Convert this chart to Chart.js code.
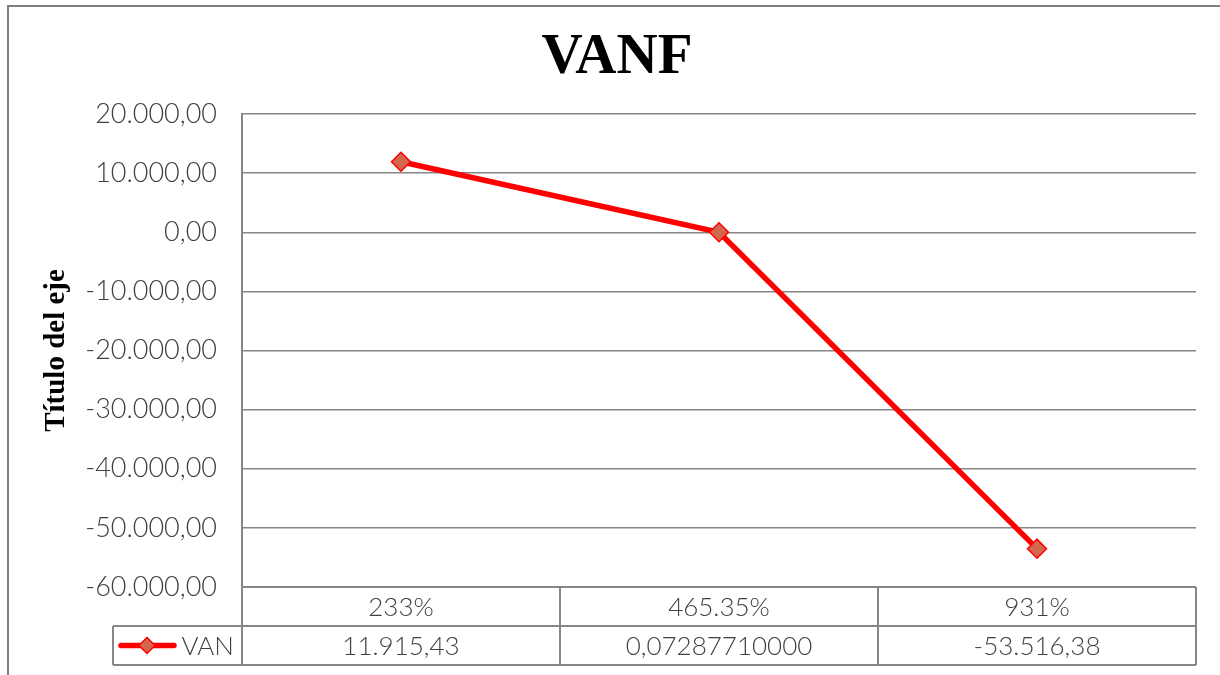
<!DOCTYPE html>
<html>
<head>
<meta charset="utf-8">
<title>VANF</title>
<script src="https://cdn.jsdelivr.net/npm/chart.js@4/dist/chart.umd.min.js"></script>
<style>
  html, body { margin: 0; padding: 0; background: #fff; }
  #wrap { width: 1220px; height: 675px; }
</style>
</head>
<body>
<div id="wrap"><canvas id="vanChart" width="1220" height="675"></canvas></div>
<script>
// chart data
const categories = ['233%', '465.35%', '931%'];
const vanValues = [11915.43, 0.0728771, -53516.38];
const vanLabels = ['11.915,43', '0,07287710000', '-53.516,38'];
const seriesName = 'VAN';

const yMin = -60000;
const yMax = 20000;
const yStep = 10000;

const LINE_RED = '#ff0000';
const MARKER_FILL = '#d3674d';
const GRID_GRAY = '#868686';
const TEXT_GRAY = '#404040';
const SANS = 'Lato, "Noto Sans", sans-serif';
const SERIF = '"Liberation Serif", "Times New Roman", serif';

// 20000 -> "20.000,00"
function formatEs(v) {
  const neg = v < 0;
  const parts = Math.abs(v).toFixed(2).split('.');
  const intPart = parts[0].replace(/\B(?=(\d{3})+(?!\d))/g, '.');
  return (neg ? '-' : '') + intPart + ',' + parts[1];
}

// outer frame like the Excel chart area border
const framePlugin = {
  id: 'frame',
  beforeDraw(chart) {
    const ctx = chart.ctx;
    ctx.save();
    ctx.strokeStyle = '#7f7f7f';
    ctx.lineWidth = 2;
    ctx.strokeRect(8, 6, chart.width + 20, chart.height + 20);
    ctx.restore();
  }
};

// data table under the plot (categories row + series row with legend key)
const dataTablePlugin = {
  id: 'dataTable',
  afterDraw(chart) {
    const ctx = chart.ctx;
    const area = chart.chartArea;
    const xScale = chart.scales.x;
    const rowH = 39;
    const top = area.bottom;
    const mid = top + rowH;
    const bottom = mid + rowH;
    const step = xScale.getPixelForValue(1) - xScale.getPixelForValue(0);
    const keyLeft = 113;

    ctx.save();
    ctx.strokeStyle = GRID_GRAY;
    ctx.lineWidth = 2;

    // grid of the table
    ctx.beginPath();
    ctx.moveTo(area.left, top); ctx.lineTo(area.right, top);
    ctx.moveTo(keyLeft, mid); ctx.lineTo(area.right, mid);
    ctx.moveTo(keyLeft, bottom); ctx.lineTo(area.right, bottom);
    ctx.moveTo(keyLeft, mid); ctx.lineTo(keyLeft, bottom);
    ctx.moveTo(area.left, top); ctx.lineTo(area.left, bottom);
    categories.forEach((c, i) => {
      const xr = xScale.getPixelForValue(i) + step / 2;
      ctx.moveTo(xr, top); ctx.lineTo(xr, bottom);
    });
    ctx.stroke();

    // cell text
    ctx.fillStyle = TEXT_GRAY;
    ctx.font = '300 26px ' + SANS;
    ctx.textAlign = 'center';
    ctx.textBaseline = 'middle';
    categories.forEach((c, i) => {
      const x = xScale.getPixelForValue(i);
      ctx.fillText(c, x, top + rowH / 2 + 1);
      ctx.fillText(vanLabels[i], x, mid + rowH / 2 + 1);
    });

    // legend key
    const ky = mid + rowH / 2;
    ctx.strokeStyle = LINE_RED;
    ctx.lineWidth = 5.5;
    ctx.lineCap = 'round';
    ctx.beginPath();
    ctx.moveTo(121, ky); ctx.lineTo(174, ky);
    ctx.stroke();
    ctx.beginPath();
    ctx.moveTo(147, ky - 8); ctx.lineTo(155, ky); ctx.lineTo(147, ky + 8); ctx.lineTo(139, ky);
    ctx.closePath();
    ctx.fillStyle = MARKER_FILL;
    ctx.fill();
    ctx.strokeStyle = LINE_RED;
    ctx.lineWidth = 1.5;
    ctx.stroke();

    ctx.fillStyle = TEXT_GRAY;
    ctx.textAlign = 'right';
    ctx.fillText(seriesName, area.left - 8, ky + 1);
    ctx.restore();
  }
};

function buildConfig() {
  return {
    type: 'line',
    data: {
      labels: categories,
      datasets: [{
        label: seriesName,
        data: vanValues,
        borderColor: LINE_RED,
        borderWidth: 5.5,
        pointStyle: 'rectRot',
        pointRadius: 9.5,
        pointBackgroundColor: MARKER_FILL,
        pointBorderColor: LINE_RED,
        pointBorderWidth: 1.5,
        tension: 0
      }]
    },
    options: {
      responsive: false,
      animation: false,
      devicePixelRatio: 1,
      // left padding shifts the title centre to match Excel's placement
      layout: { padding: { left: 38, right: 24, top: 0, bottom: 0 } },
      plugins: {
        legend: { display: false },
        tooltip: { enabled: false },
        title: {
          display: true,
          text: 'VANF',
          color: '#000',
          font: { family: SERIF, size: 57, weight: 'bold' },
          padding: { top: 24, bottom: 21.6 }
        }
      },
      scales: {
        x: {
          type: 'category',
          offset: true,
          grid: { display: false },
          border: { display: false },
          ticks: { display: false },
          afterFit(scale) { scale.height = 88; }
        },
        y: {
          min: yMin,
          max: yMax,
          grid: { color: GRID_GRAY, lineWidth: 1.5, drawTicks: false },
          border: { display: true, color: GRID_GRAY, width: 2 },
          ticks: {
            stepSize: yStep,
            padding: 25,
            color: TEXT_GRAY,
            font: { family: SANS, size: 27, weight: '300' },
            callback: v => formatEs(v)
          },
          title: {
            display: true,
            text: 'Título del eje',
            color: '#000',
            font: { family: SERIF, size: 29, weight: 'bold' },
            padding: { top: 1, bottom: 0 }
          },
          afterFit(scale) { scale.width = 204; }
        }
      }
    },
    plugins: [framePlugin, dataTablePlugin]
  };
}

window.addEventListener('DOMContentLoaded', () => {
  const ctx = document.getElementById('vanChart').getContext('2d');
  new Chart(ctx, buildConfig());
});
</script>
</body>
</html>
